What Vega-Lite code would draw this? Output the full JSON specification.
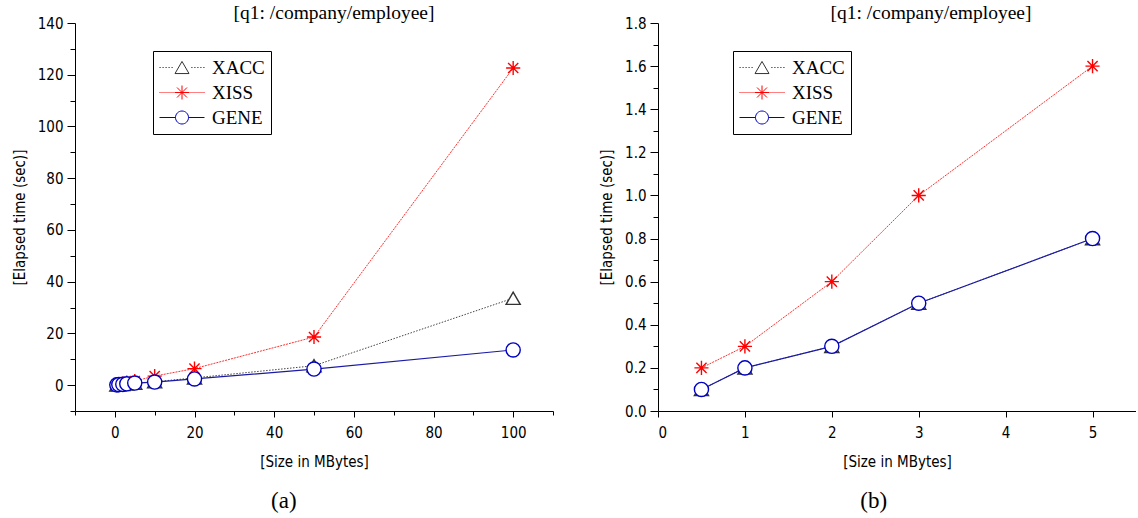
{
  "$schema": "https://vega.github.io/schema/vega-lite/v6.json",
  "background": "white",
  "padding": {"left": 12, "top": 2, "right": 0, "bottom": 0},
  "autosize": {"type": "pad"},
  "config": {
    "view": {"stroke": null},
    "font": "DejaVu Sans Condensed",
    "axis": {
      "grid": false,
      "domainColor": "black",
      "domainWidth": 1,
      "tickColor": "black",
      "tickWidth": 1,
      "labelColor": "black",
      "titleColor": "black",
      "labelFont": "DejaVu Sans Condensed",
      "labelFontSize": 15,
      "titleFont": "DejaVu Sans Condensed",
      "titleFontSize": 15,
      "titleFontWeight": "normal",
      "labelPadding": 4
    },
    "title": {"font": "Liberation Serif", "fontSize": 19.5, "fontWeight": "normal", "color": "black"},
    "legend": {
      "labelFont": "Liberation Serif",
      "labelFontSize": 19,
      "labelColor": "black",
      "strokeColor": "black",
      "fillColor": "white",
      "padding": 6,
      "symbolSize": 400,
      "symbolStrokeWidth": 1,
      "symbolOpacity": 1,
      "symbolFillColor": "white",
      "labelOffset": 32,
      "rowPadding": 4,
      "cornerRadius": 0
    }
  },
  "datasets": {
    "a": [
      {"size": 0.5, "series": "XACC", "time": 0.1},
      {"size": 1, "series": "XACC", "time": 0.2},
      {"size": 2, "series": "XACC", "time": 0.3},
      {"size": 3, "series": "XACC", "time": 0.5},
      {"size": 5, "series": "XACC", "time": 0.8},
      {"size": 10, "series": "XACC", "time": 1.3},
      {"size": 20, "series": "XACC", "time": 2.8},
      {"size": 50, "series": "XACC", "time": 7.5},
      {"size": 100, "series": "XACC", "time": 33.6},
      {"size": 0.5, "series": "XISS", "time": 0.2},
      {"size": 1, "series": "XISS", "time": 0.3},
      {"size": 2, "series": "XISS", "time": 0.6},
      {"size": 3, "series": "XISS", "time": 1.0},
      {"size": 5, "series": "XISS", "time": 1.6},
      {"size": 10, "series": "XISS", "time": 3.5},
      {"size": 20, "series": "XISS", "time": 6.4},
      {"size": 50, "series": "XISS", "time": 18.6},
      {"size": 100, "series": "XISS", "time": 122.6},
      {"size": 0.5, "series": "GENE", "time": 0.1},
      {"size": 1, "series": "GENE", "time": 0.2},
      {"size": 2, "series": "GENE", "time": 0.3},
      {"size": 3, "series": "GENE", "time": 0.5},
      {"size": 5, "series": "GENE", "time": 0.8},
      {"size": 10, "series": "GENE", "time": 1.2},
      {"size": 20, "series": "GENE", "time": 2.4},
      {"size": 50, "series": "GENE", "time": 6.2},
      {"size": 100, "series": "GENE", "time": 13.6}
    ],
    "b": [
      {"size": 0.5, "series": "XACC", "time": 0.1},
      {"size": 1, "series": "XACC", "time": 0.2},
      {"size": 2, "series": "XACC", "time": 0.3},
      {"size": 3, "series": "XACC", "time": 0.5},
      {"size": 5, "series": "XACC", "time": 0.8},
      {"size": 0.5, "series": "XISS", "time": 0.2},
      {"size": 1, "series": "XISS", "time": 0.3},
      {"size": 2, "series": "XISS", "time": 0.6},
      {"size": 3, "series": "XISS", "time": 1.0},
      {"size": 5, "series": "XISS", "time": 1.6},
      {"size": 0.5, "series": "GENE", "time": 0.1},
      {"size": 1, "series": "GENE", "time": 0.2},
      {"size": 2, "series": "GENE", "time": 0.3},
      {"size": 3, "series": "GENE", "time": 0.5},
      {"size": 5, "series": "GENE", "time": 0.8}
    ]
  },
  "spacing": 45,
  "resolve": {
    "scale": {"stroke": "independent", "shape": "independent"},
    "legend": {"stroke": "independent", "shape": "independent"}
  },
  "hconcat": [
    {
      "title": {"text": "(a)", "orient": "bottom", "anchor": "middle", "fontSize": 23, "offset": 21, "dx": 1},
      "vconcat": [
        {
          "title": {"text": "[q1: /company/employee]", "baseline": "alphabetic", "offset": -22, "dx": 20},
          "width": 478,
          "height": 388,
          "data": {"name": "a"},
          "encoding": {
            "x": {
              "field": "size", "type": "quantitative",
              "scale": {"domain": [-10, 110], "nice": false, "zero": false},
              "axis": {
                "title": "[Size in MBytes]",
                "values": [-10, 0, 10, 20, 30, 40, 50, 60, 70, 80, 90, 100, 110],
                "format": "d",
                "labelExpr": "datum.value % 20 === 0 ? datum.label : ''",
                "tickSize": {"condition": {"test": "datum.value % 20 === 0", "value": 6}, "value": 4},
                "labelPadding": 8,
                "titlePadding": 14
              }
            },
            "y": {
              "field": "time", "type": "quantitative",
              "scale": {"domain": [-10, 140], "nice": false, "zero": false},
              "axis": {
                "title": "[Elapsed time (sec)]",
                "values": [-10, 0, 10, 20, 30, 40, 50, 60, 70, 80, 90, 100, 110, 120, 130, 140],
                "format": "d",
                "labelExpr": "datum.value % 20 === 0 ? datum.label : ''",
                "tickSize": {"condition": {"test": "datum.value % 20 === 0", "value": 8}, "value": 5},
                "titlePadding": 10
              }
            }
          },
          "resolve": {
            "scale": {"stroke": "independent", "shape": "independent"},
            "legend": {"stroke": "independent", "shape": "independent"}
          },
          "layer": [
            {
              "transform": [{"filter": "datum.series === 'XACC'"}],
              "mark": {"type": "line", "color": "#444444", "strokeWidth": 1, "strokeDash": [1.5, 1.5]}
            },
            {
              "transform": [{"filter": "datum.series === 'XISS'"}],
              "mark": {"type": "line", "color": "#ff3030", "strokeWidth": 1, "strokeDash": [2, 1]}
            },
            {
              "transform": [{"filter": "datum.series === 'GENE'"}],
              "mark": {"type": "line", "color": "#1a1aa6", "strokeWidth": 1.2}
            },
            {
              "mark": {"type": "point", "filled": true, "fill": "white", "strokeWidth": 1.4, "size": 200, "opacity": 1},
              "encoding": {
                "shape": {
                  "field": "series", "type": "nominal",
                  "scale": {"domain": ["XACC", "XISS", "GENE"], "range": ["triangle-up", "M0,-1V1M-1,0H1M-0.72,-0.72L0.72,0.72M-0.72,0.72L0.72,-0.72", "circle"]},
                  "legend": null
                },
                "stroke": {
                  "field": "series", "type": "nominal",
                  "scale": {"domain": ["XACC", "XISS", "GENE"], "range": ["#333333", "#ff0000", "#0000c0"]},
                  "legend": null
                }
              }
            },
            {
              "mark": {"type": "point", "filled": true, "fill": "white", "strokeWidth": 1, "opacity": 0},
              "encoding": {
                "shape": {
                  "field": "series", "type": "nominal",
                  "scale": {"domain": ["XACC", "XISS", "GENE"], "range": [
                    "M-1,0h0.12M-0.7,0h0.12M-0.4,0h0.12M-0.1,0h0.12M0.2,0h0.12M2.18,0h0.12M2.48,0h0.12M2.78,0h0.12M3.08,0h0.12M3.38,0h0.12M1.25,-0.606L1.95,0.606L0.55,0.606Z",
                    "M-1,0h0.1M-0.8,0h0.1M-0.6,0h0.1M-0.4,0h0.1M-0.2,0h0.1M0,0h0.1M0.2,0h0.1M0.4,0h0.1M2.0,0h0.1M2.2,0h0.1M2.4,0h0.1M2.6,0h0.1M2.8,0h0.1M3.0,0h0.1M3.2,0h0.1M3.4,0h0.1M1.25,-0.7V0.7M0.55,0H1.95M0.75,-0.5L1.75,0.5M0.75,0.5L1.75,-0.5",
                    "M-1,0H0.6M1.9,0H3.5M1.9,0A0.65,0.65 0 1,1 0.6,0A0.65,0.65 0 1,1 1.9,0Z"
                  ]},
                  "legend": {"title": null, "orient": "none", "legendX": 78, "legendY": 28}
                },
                "stroke": {
                  "field": "series", "type": "nominal",
                  "scale": {"domain": ["XACC", "XISS", "GENE"], "range": ["#333333", "#ff0000", "#0000c0"]},
                  "legend": {"title": null, "orient": "none", "legendX": 78, "legendY": 28}
                }
              }
            }
          ]
        }
      ]
    },
    {
      "title": {"text": "(b)", "orient": "bottom", "anchor": "middle", "fontSize": 23, "offset": 21, "dx": 6},
      "vconcat": [
        {
          "title": {"text": "[q1: /company/employee]", "baseline": "alphabetic", "offset": -22, "dx": 34},
          "width": 478,
          "height": 388,
          "data": {"name": "b"},
          "encoding": {
            "x": {
              "field": "size", "type": "quantitative",
              "scale": {"domain": [0, 5.5], "nice": false, "zero": false},
              "axis": {
                "title": "[Size in MBytes]",
                "values": [0, 0.5, 1, 1.5, 2, 2.5, 3, 3.5, 4, 4.5, 5, 5.5],
                "format": "d",
                "labelExpr": "datum.value % 1 === 0 ? datum.label : ''",
                "tickSize": {"condition": {"test": "datum.value % 1 === 0", "value": 6}, "value": 4},
                "labelPadding": 8,
                "titlePadding": 14
              }
            },
            "y": {
              "field": "time", "type": "quantitative",
              "scale": {"domain": [0, 1.8], "nice": false, "zero": false},
              "axis": {
                "title": "[Elapsed time (sec)]",
                "values": [0, 0.1, 0.2, 0.3, 0.4, 0.5, 0.6, 0.7, 0.8, 0.9, 1.0, 1.1, 1.2, 1.3, 1.4, 1.5, 1.6, 1.7, 1.8],
                "format": ".1f",
                "labelExpr": "round(datum.value * 10) % 2 === 0 ? datum.label : ''",
                "tickSize": {"condition": {"test": "round(datum.value * 10) % 2 === 0", "value": 8}, "value": 5},
                "titlePadding": 10
              }
            }
          },
          "resolve": {
            "scale": {"stroke": "independent", "shape": "independent"},
            "legend": {"stroke": "independent", "shape": "independent"}
          },
          "layer": [
            {
              "transform": [{"filter": "datum.series === 'XACC'"}],
              "mark": {"type": "line", "color": "#444444", "strokeWidth": 1, "strokeDash": [1.5, 1.5]}
            },
            {
              "transform": [{"filter": "datum.series === 'XISS'"}],
              "mark": {"type": "line", "color": "#ff3030", "strokeWidth": 1, "strokeDash": [2, 1]}
            },
            {
              "transform": [{"filter": "datum.series === 'GENE'"}],
              "mark": {"type": "line", "color": "#1a1aa6", "strokeWidth": 1.2}
            },
            {
              "mark": {"type": "point", "filled": true, "fill": "white", "strokeWidth": 1.4, "size": 200, "opacity": 1},
              "encoding": {
                "shape": {
                  "field": "series", "type": "nominal",
                  "scale": {"domain": ["XACC", "XISS", "GENE"], "range": ["triangle-up", "M0,-1V1M-1,0H1M-0.72,-0.72L0.72,0.72M-0.72,0.72L0.72,-0.72", "circle"]},
                  "legend": null
                },
                "stroke": {
                  "field": "series", "type": "nominal",
                  "scale": {"domain": ["XACC", "XISS", "GENE"], "range": ["#333333", "#ff0000", "#0000c0"]},
                  "legend": null
                }
              }
            },
            {
              "mark": {"type": "point", "filled": true, "fill": "white", "strokeWidth": 1, "opacity": 0},
              "encoding": {
                "shape": {
                  "field": "series", "type": "nominal",
                  "scale": {"domain": ["XACC", "XISS", "GENE"], "range": [
                    "M-1,0h0.12M-0.7,0h0.12M-0.4,0h0.12M-0.1,0h0.12M0.2,0h0.12M2.18,0h0.12M2.48,0h0.12M2.78,0h0.12M3.08,0h0.12M3.38,0h0.12M1.25,-0.606L1.95,0.606L0.55,0.606Z",
                    "M-1,0h0.1M-0.8,0h0.1M-0.6,0h0.1M-0.4,0h0.1M-0.2,0h0.1M0,0h0.1M0.2,0h0.1M0.4,0h0.1M2.0,0h0.1M2.2,0h0.1M2.4,0h0.1M2.6,0h0.1M2.8,0h0.1M3.0,0h0.1M3.2,0h0.1M3.4,0h0.1M1.25,-0.7V0.7M0.55,0H1.95M0.75,-0.5L1.75,0.5M0.75,0.5L1.75,-0.5",
                    "M-1,0H0.6M1.9,0H3.5M1.9,0A0.65,0.65 0 1,1 0.6,0A0.65,0.65 0 1,1 1.9,0Z"
                  ]},
                  "legend": {"title": null, "orient": "none", "legendX": 75, "legendY": 28}
                },
                "stroke": {
                  "field": "series", "type": "nominal",
                  "scale": {"domain": ["XACC", "XISS", "GENE"], "range": ["#333333", "#ff0000", "#0000c0"]},
                  "legend": {"title": null, "orient": "none", "legendX": 75, "legendY": 28}
                }
              }
            }
          ]
        }
      ]
    }
  ]
}
